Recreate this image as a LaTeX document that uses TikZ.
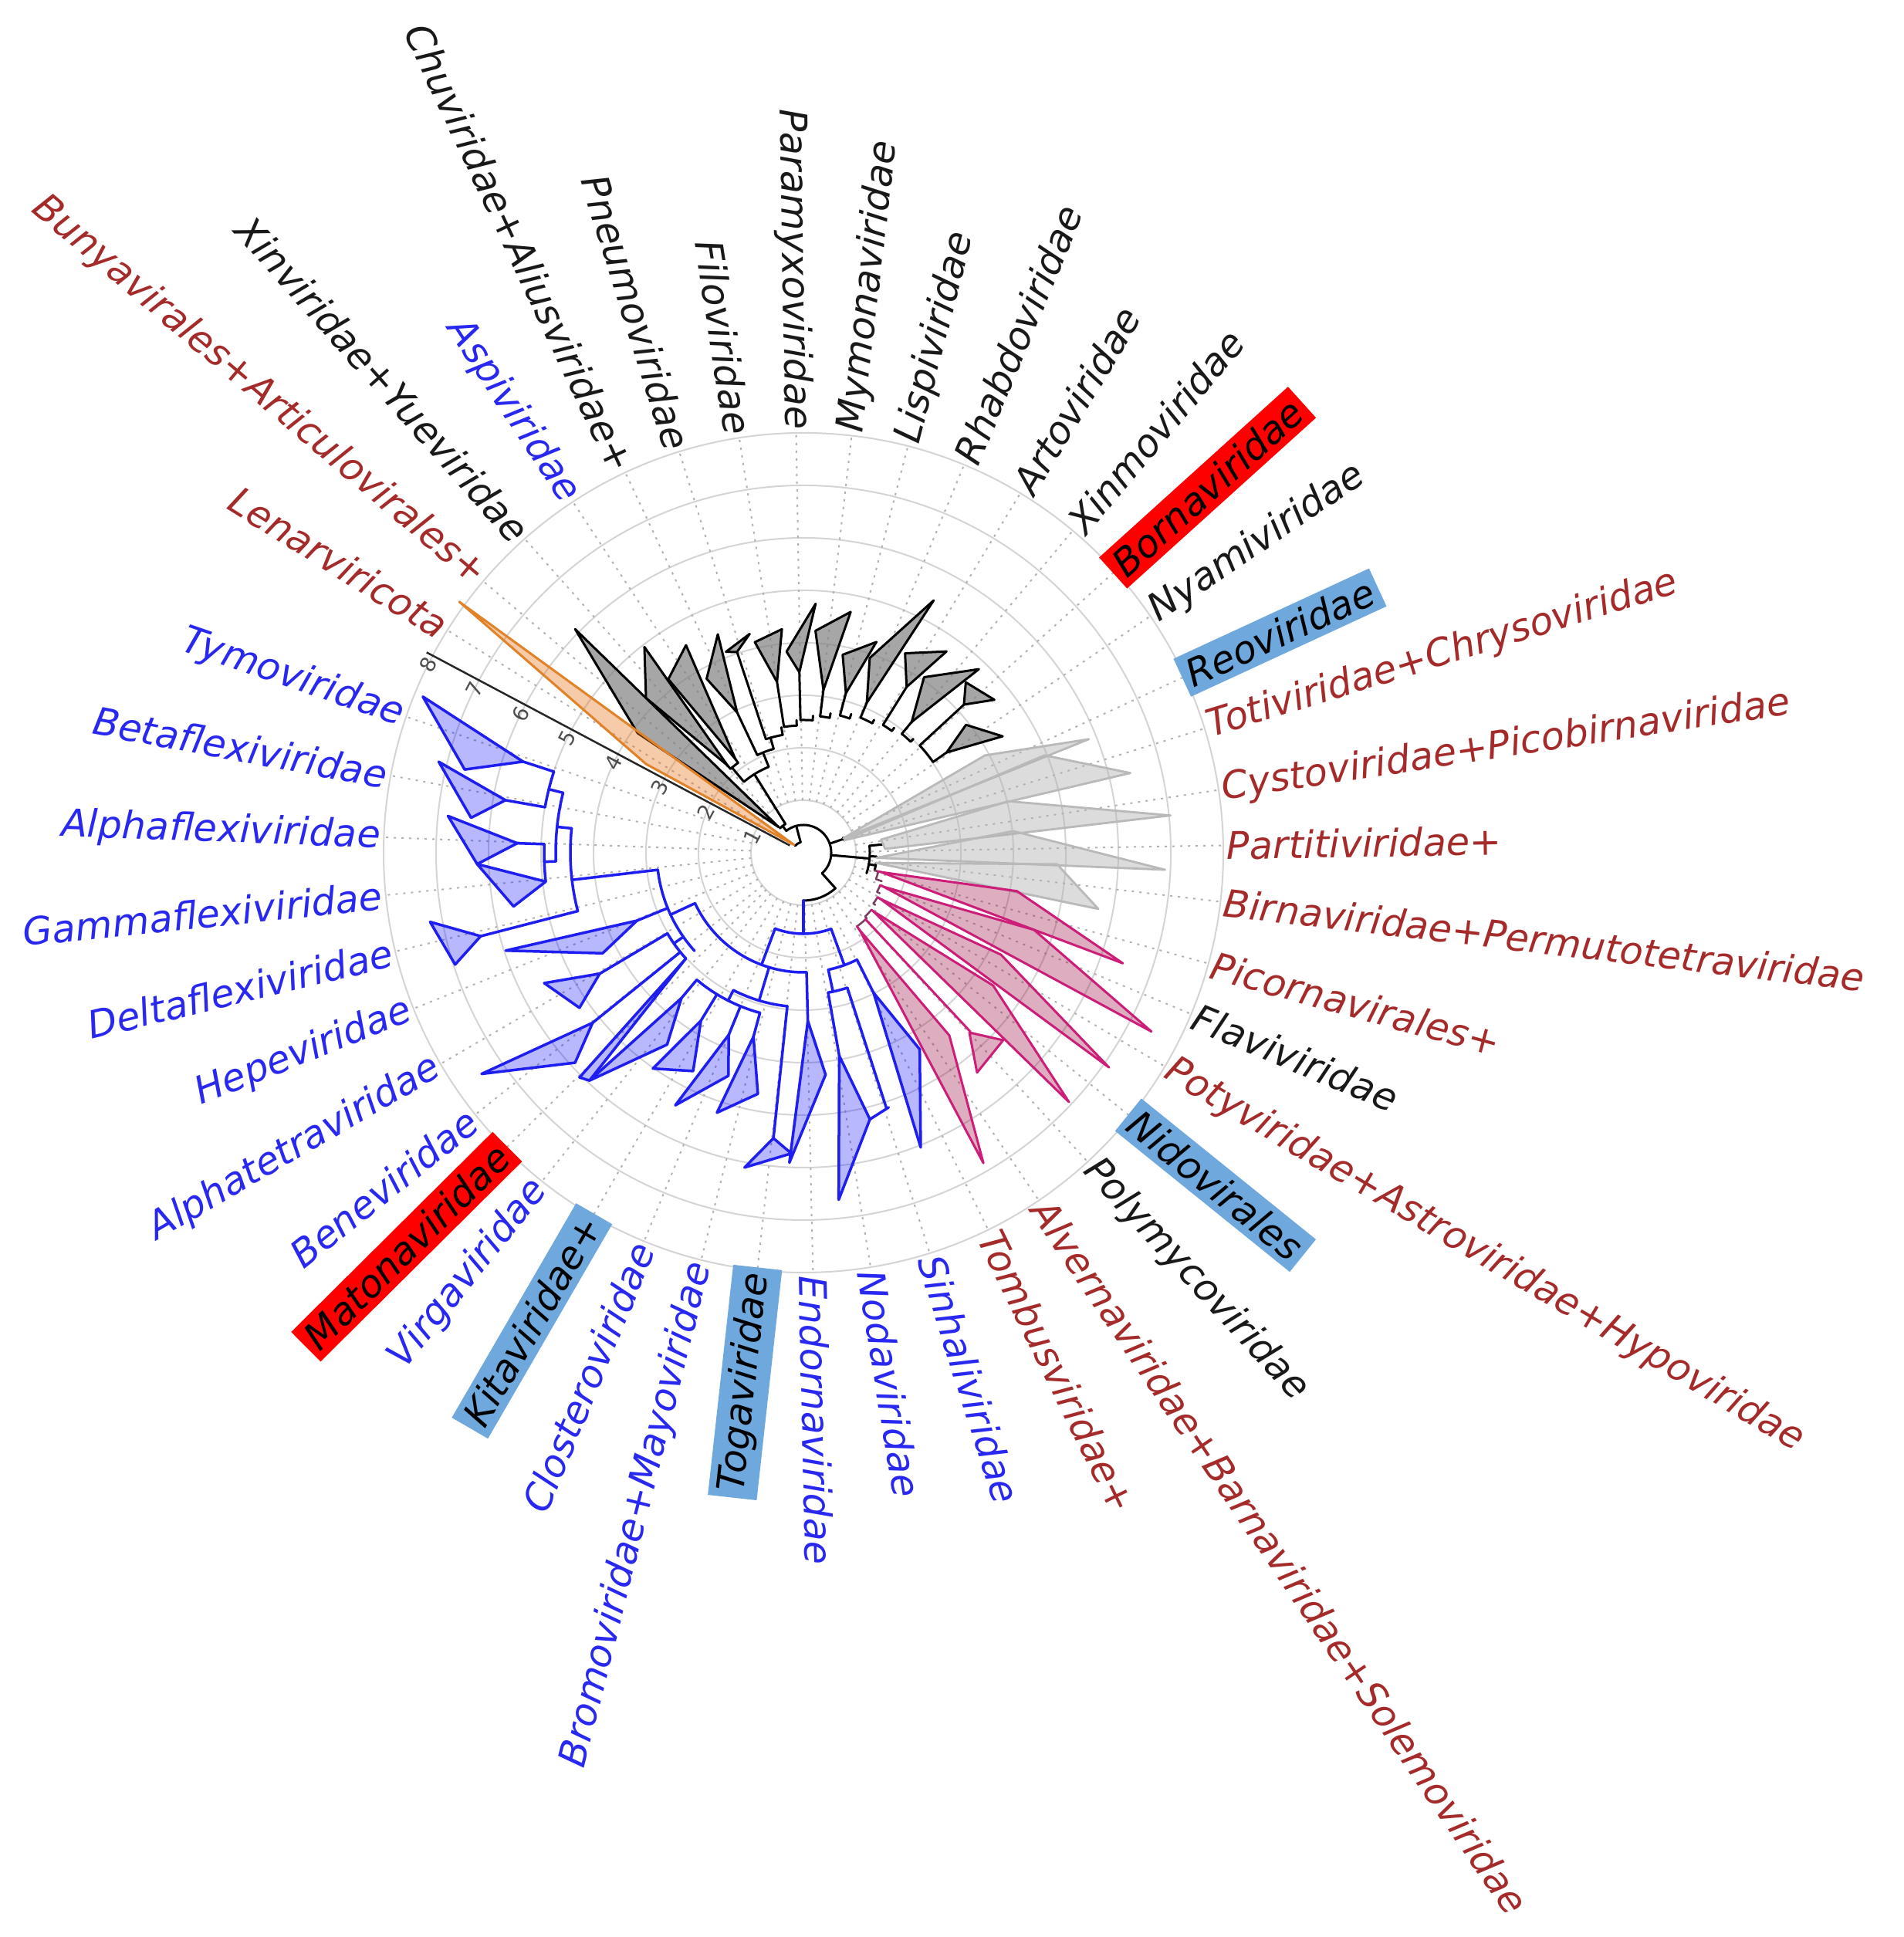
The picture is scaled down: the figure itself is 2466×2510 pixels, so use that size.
\documentclass[tikz,border=0pt]{standalone}
\usepackage{fontspec}
\setmainfont{DejaVu Sans}
\usetikzlibrary{calc}
\definecolor{tblue}{RGB}{30,30,240}
\definecolor{tmag}{RGB}{204,30,120}
\definecolor{tmagd}{RGB}{120,60,95}
\definecolor{tlg}{RGB}{185,185,185}
\definecolor{tor}{RGB}{225,130,40}
\definecolor{lblred}{RGB}{165,42,42}
\definecolor{lblblue}{RGB}{40,40,240}
\definecolor{lblblack}{RGB}{25,25,25}
\definecolor{hlred}{RGB}{255,0,0}
\definecolor{hlblue}{RGB}{111,168,220}
\tikzset{
  ring/.style={draw=black!17, line width=0.02cm},
  gridl/.style={draw=black!30, line width=0.02cm, dash pattern=on 0.03cm off 0.07cm},
  lbl/.style={font=\fontsize{14}{17}\selectfont\itshape, inner sep=0.08cm},
  lblr/.style={text=lblred},
  lblk/.style={text=lblblack},
  lblb/.style={text=lblblue},
  hlr/.style={fill=hlred, text=black},
  hlb/.style={fill=hlblue, text=black},
  ticklbl/.style={font=\fontsize{7.7}{9}\selectfont, text=black!70, inner sep=0pt},
  grpk/.style={color=black, line width=0.03cm, line join=round, line cap=round, fill=black!50, fill opacity=0.7},
  grpb/.style={color=tblue, line width=0.035cm, line join=round, line cap=round, fill={rgb,255:red,0;green,0;blue,255}, fill opacity=0.28},
  grpm/.style={color=tmag, line width=0.03cm, line join=round, line cap=round, fill={rgb,255:red,150;green,10;blue,60}, fill opacity=0.33},
  grpmd/.style={color=tmagd, line width=0.025cm, line join=round, line cap=round},
  grpg/.style={color=tlg, line width=0.028cm, line join=round, line cap=round, fill=black!30, fill opacity=0.45},
  grpo/.style={color=tor, line width=0.03cm, line join=round, line cap=round, fill={rgb,255:red,230;green,117;blue,30}, fill opacity=0.38},
}
\newcommand{\tRad}[3]{\draw (#1:#2) -- (#1:#3);}
\newcommand{\tArc}[3]{\draw (#2:#1) arc[start angle=#2, end angle=#3, radius=#1];}
\newcommand{\tTri}[6]{\filldraw (#1:#2) -- (#3:#4) -- (#5:#6) -- cycle;}
\newcommand{\lab}[4]{%
  \pgfmathtruncatemacro{\side}{cos(#2)>0}%
  \ifnum\side=1
    \node[lbl,#3,anchor=west,rotate=#2] (#1) at (#2:540) {#4};
  \else
    \pgfmathsetmacro{\angb}{#2+180}%
    \node[lbl,#3,anchor=east,rotate=\angb] (#1) at (#2:540) {#4};
  \fi}
\begin{document}
\begin{tikzpicture}[x=0.01cm,y=0.01cm]
\useasboundingbox (0,0) rectangle (2466,2510);
\begin{scope}[shift={(1041,1405)}]
% rings and grid
\foreach \k in {1,...,8} \draw[ring] (0,0) circle[radius=68*\k];
\foreach \a in {148,139.7,131.6,123.3,115.1,107.2,98.8,91,83.4,75.6,67.5,58.9,50.1,42.1,34.3,24.8,17.2,8.6,1,-6.7,-15.3,-22.6,-30.6,-38.9,-47.4,-55.9,-63.9,-72.5,-80.8,-88.7,263.7,255.9,247.7,239.9,231.5,224.8,218.6,210.2,201.8,193.6,185.8,177.9,169.4,161.1}
  \draw[gridl] (\a:68) -- (\a:544);

% ---------- black (top) clade ----------
\begin{scope}[grpk]
\tTri{134}{46}{135.6}{414}{144.2}{265}
\tTri{131}{150}{127.7}{337}{135.5}{286}
\tTri{126}{150}{119.5}{309}{127.9}{285}
\tTri{115.3}{201}{111.4}{304}{119.1}{258}
\tTri{108.3}{274}{103.8}{292}{111.1}{279}
\tTri{98.8}{224}{95.5}{291}{103}{280}
\tTri{91.3}{234}{87.2}{323}{94.8}{261.5}
\tTri{83}{212.5}{78.9}{318}{86.9}{288}
\tTri{75.1}{214}{70.9}{289}{78.8}{261.5}
\tTri{67.1}{211}{62.7}{368}{71.2}{266.5}
\tTri{58.1}{253}{54.6}{320}{63}{290}
\tTri{50.4}{220}{46.3}{329}{55.5}{276}
\tTri{42.7}{283}{38.7}{317}{46.4}{305}
\tTri{35}{226.5}{30.3}{299}{38.2}{268}
% root
\tArc{14}{140}{105}
\tRad{105}{14}{36}
\tArc{36}{128}{-48}
\tRad{-48}{36}{62}
\tArc{62}{-48}{-90}
\tRad{128}{36}{44}
\tArc{44}{134}{122}
% ladder
\tRad{122}{44}{120}
\tArc{120}{130}{112}
\tRad{130}{120}{144}
\tArc{144}{131}{126}
\tRad{131}{144}{150}
\tRad{126}{144}{150}
\tRad{112}{120}{140} \tArc{140}{115.3}{106} \tRad{115.3}{140}{201}
\tRad{106}{140}{155} \tArc{155}{108.3}{100} \tRad{108.3}{155}{274}
\tRad{100}{155}{165} \tArc{165}{98.8}{93} \tRad{98.8}{165}{224}
\tRad{93}{165}{172} \tArc{172}{91.3}{86} \tRad{91.3}{172}{234}
\tRad{86}{172}{178} \tArc{178}{83}{79} \tRad{83}{178}{212.5}
\tRad{79}{178}{184} \tArc{184}{75.1}{71} \tRad{75.1}{184}{214}
\tRad{71}{184}{190} \tArc{190}{67.1}{62} \tRad{67.1}{190}{211}
\tRad{62}{190}{195} \tArc{195}{58.1}{54} \tRad{58.1}{195}{253}
\tRad{54}{195}{200} \tArc{200}{50.4}{46} \tRad{50.4}{200}{220}
\tRad{46}{200}{205} \tArc{205}{42.7}{35} \tRad{42.7}{205}{283} \tRad{35}{205}{226.5}
% right group connectors
\tRad{19}{36}{55} \tArc{55}{17}{21}
\tRad{-5}{36}{86} \tArc{86}{6}{-18}
\tRad{6}{86}{104}
\tRad{-3}{86}{95}
\tRad{-10}{86}{95} \tArc{95}{-8}{-14}
\end{scope}

% ---------- orange ----------
\begin{scope}[grpo]
\tTri{140}{16}{150.6}{234}{143.9}{552}
\end{scope}

% ---------- light grey ----------
\begin{scope}[grpg]
\tTri{20}{55}{28.2}{267}{21.7}{398}
\tTri{17}{55}{22}{337}{13.7}{436}
\filldraw (9.6:102) -- (14.1:274) -- (5.8:478) -- (2.7:106) -- cycle;
\tTri{-4}{95}{5.9}{273}{-2.7}{469}
\tTri{-8}{95}{-2.6}{329}{-10.8}{389}
\end{scope}

% ---------- magenta ----------
\begin{scope}[grpmd]
\tRad{-14}{95}{100} \tArc{100}{-14}{-20}
\tRad{-20}{100}{108} \tArc{108}{-23}{-28}
\tRad{-28}{108}{112} \tArc{112}{-31}{-36}
\tRad{-36}{112}{115} \tArc{115}{-40}{-46}
\tRad{-46}{115}{118} \tArc{118}{-47}{-54}
\end{scope}
\begin{scope}[grpm]
\tRad{-14}{100}{104}
\tRad{-23}{108}{113}
\tRad{-31}{112}{116}
\tRad{-40}{115}{118}
\tRad{-47}{118}{317}
\tRad{-54}{118}{124}
\tTri{-14}{104}{-10.2}{281}{-19.1}{438}
\tTri{-23}{113}{-18.5}{315}{-27.2}{507}
\tTri{-31}{116}{-27.3}{288}{-35.1}{484}
\tTri{-40}{118}{-35}{300}{-43.2}{472}
\tTri{-47.3}{317}{-43.2}{355}{-51.7}{363}
\tTri{-54}{124}{-51.4}{303}{-59.9}{465}
\end{scope}

% ---------- blue ----------
\begin{scope}[grpb]
\tRad{-90}{62}{105}
\tArc{105}{249.5}{290}
% right part
\tRad{290}{105}{155} \tArc{155}{282}{296.6}
\tRad{296.6}{155}{203}
\tRad{282}{155}{184} \tArc{184}{280}{288}
\tRad{280}{184}{267}
\tRad{288}{184}{348}
\draw (288.5:348) -- (284:356);
% left part
\tRad{249.5}{105}{155} \tArc{155}{205}{271.5}
\tRad{271.5}{155}{218}
\tRad{253.3}{155}{200} \tArc{200}{243}{264}
\tRad{264}{200}{372}
\tRad{243}{200}{215} \tArc{215}{230}{254.8}
\tRad{230}{215}{246} \tRad{238.6}{215}{255} \tRad{247.7}{215}{255} \tRad{254.8}{215}{247}
\tRad{205}{155}{190} \tArc{190}{186.7}{222}
\tRad{186.7}{190}{302} \tArc{302}{174}{194.5}
\tRad{194.5}{302}{432}
\tRad{174}{302}{321} \tArc{321}{166}{182}
\tRad{166}{321}{340} \tArc{340}{162}{170}
\tRad{162}{340}{382} \tRad{170}{340}{392}
\tRad{182}{321}{336} \tArc{336}{178.1}{186.4}
\tRad{178.1}{336}{371}
\tRad{202.2}{190}{233}
\tRad{215}{190}{205} \tArc{205}{210.7}{222}
\tRad{210.7}{205}{307} \tRad{218.9}{205}{351}
% triangles
\tTri{162}{382}{157.7}{533}{166.2}{452}
\tTri{170}{392}{166}{487}{174}{433}
\tTri{178.1}{371}{174.1}{463}{182}{423}
\tTri{186.4}{336}{182}{423}{190.5}{382}
\tTri{194.5}{432}{190.5}{492}{197.8}{474}
\tTri{202.2}{233}{198.2}{406}{206.6}{291}
\tTri{210.7}{307}{206.7}{376}{214.7}{353}
\tTri{218.9}{351}{214.5}{506}{222.6}{402}
\tTri{222}{205}{225.1}{411}{226.8}{405}
\tTri{230}{246}{226.8}{405}{234.6}{305}
\tTri{238.6}{255}{235.1}{341}{243.2}{317}
\tTri{247.7}{255}{243.1}{367}{251.4}{305}
\tTri{254.8}{247}{251.6}{355}{259.3}{318}
\tTri{264}{372}{259.4}{415}{267.7}{390}
\tTri{271.5}{218}{267.4}{402}{275.7}{289}
\tTri{280}{267}{275.8}{452}{284}{356}
\tTri{296.6}{203}{291.7}{411}{300.6}{296}
\end{scope}

% ---------- scale bar ----------
\draw[black!85, line width=0.025cm] (152:20) -- (152:553);
\foreach \k in {1,...,8}
  \node[ticklbl, rotate=62] (t\k) at ($(152:{68*\k})+(242:13)$) {\k};

% ---------- labels ----------
\lab{L1}{148}{lblr}{Lenarviricota}
\lab{L2}{139.7}{lblr}{Bunyavirales+Articulovirales+}
\lab{L3}{131.6}{lblk}{Xinviridae+Yueviridae}
\lab{L4}{123.3}{lblb}{Aspiviridae}
\lab{L5}{115.1}{lblk}{Chuviridae+Aliusviridae+}
\lab{L6}{107.2}{lblk}{Pneumoviridae}
\lab{L7}{98.8}{lblk}{Filoviridae}
\lab{L8}{91}{lblk}{Paramyxoviridae}
\lab{L9}{83.4}{lblk}{Mymonaviridae}
\lab{L10}{75.6}{lblk}{Lispiviridae}
\lab{L11}{67.5}{lblk}{Rhabdoviridae}
\lab{L12}{58.9}{lblk}{Artoviridae}
\lab{L13}{50.1}{lblk}{Xinmoviridae}
\lab{L14}{42.1}{hlr}{Bornaviridae}
\lab{L15}{34.3}{lblk}{Nyamiviridae}
\lab{L16}{24.8}{hlb}{Reoviridae}
\lab{L17}{17.2}{lblr}{Totiviridae+Chrysoviridae}
\lab{L18}{8.6}{lblr}{Cystoviridae+Picobirnaviridae}
\lab{L19}{1}{lblr}{Partitiviridae+}
\lab{L20}{-6.7}{lblr}{Birnaviridae+Permutotetraviridae}
\lab{L21}{-15.3}{lblr}{Picornavirales+}
\lab{L22}{-22.6}{lblk}{Flaviviridae}
\lab{L23}{-30.6}{lblr}{Potyviridae+Astroviridae+Hypoviridae}
\lab{L24}{-38.9}{hlb}{Nidovirales}
\lab{L25}{-47.4}{lblk}{Polymycoviridae}
\lab{L26}{-55.9}{lblr}{Alvernaviridae+Barnaviridae+Solemoviridae}
\lab{L27}{-63.9}{lblr}{Tombusviridae+}
\lab{L28}{-72.5}{lblb}{Sinhaliviridae}
\lab{L29}{-80.8}{lblb}{Nodaviridae}
\lab{L30}{-88.7}{lblb}{Endornaviridae}
\lab{L31}{263.7}{hlb}{Togaviridae}
\lab{L32}{255.9}{lblb}{Bromoviridae+Mayoviridae}
\lab{L33}{247.7}{lblb}{Closteroviridae}
\lab{L34}{239.9}{hlb}{Kitaviridae+}
\lab{L35}{231.5}{lblb}{Virgaviridae}
\lab{L36}{224.8}{hlr}{Matonaviridae}
\lab{L37}{218.6}{lblb}{Beneviridae}
\lab{L38}{210.2}{lblb}{Alphatetraviridae}
\lab{L39}{201.8}{lblb}{Hepeviridae}
\lab{L40}{193.6}{lblb}{Deltaflexiviridae}
\lab{L41}{185.8}{lblb}{Gammaflexiviridae}
\lab{L42}{177.9}{lblb}{Alphaflexiviridae}
\lab{L43}{169.4}{lblb}{Betaflexiviridae}
\lab{L44}{161.1}{lblb}{Tymoviridae}
\end{scope}
\end{tikzpicture}
\end{document}
